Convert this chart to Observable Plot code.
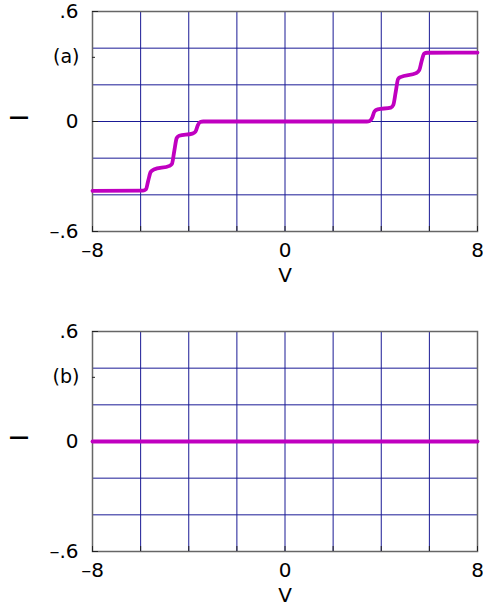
<!DOCTYPE html>
<html>
<head>
<meta charset="utf-8">
<script src="https://cdn.jsdelivr.net/npm/d3@7"></script>
<script src="https://cdn.jsdelivr.net/npm/@observablehq/plot@0.6"></script>
<style>
  body { margin: 0; background: #fff; }
  svg { display: block; }
</style>
</head>
<body>
<div id="chart"></div>
<script>
// Panel (a): current I vs voltage V (staircase)
const vA = [-8, -5.9, -5.78, -5.68, -5.58, -5.45, -4.8, -4.7, -4.6, -4.5, -4.4, -3.85, -3.72, -3.62, -3.52, -3.4,
            3.4, 3.52, 3.62, 3.72, 3.85, 4.4, 4.5, 4.6, 4.7, 4.8, 5.45, 5.58, 5.68, 5.78, 5.9, 8];
const iA = [-0.378, -0.377, -0.37, -0.32, -0.275, -0.262, -0.242, -0.232, -0.16, -0.09, -0.078, -0.066, -0.055, -0.02, -0.003, 0,
            0, 0.003, 0.02, 0.055, 0.066, 0.076, 0.09, 0.16, 0.232, 0.242, 0.264, 0.28, 0.33, 0.37, 0.375, 0.376];
// Panel (b): zero current
const vB = [-8, 8];
const iB = [0, 0];

const panelLabels = ["(a)", "(b)"];
const xGrid = [-8, -6, -4, -2, 0, 2, 4, 6, 8];
const xLabelTicks = [-8, 0, 8];
const yGrid = [-0.6, -0.4, -0.2, 0, 0.2, 0.4, 0.6];
const yLabelTicks = [-0.6, 0, 0.6];
const yTickText = {"-0.6": "\u2013.6", "0": "0", "0.6": ".6"};
const panelLabelAt = 0.35;
const xTitle = "V";
const yTitle = "I";

const FONT = "DejaVu Sans, Liberation Sans, Arial, sans-serif";
const GRID = "#1a1a95";
const CURVE = "#c000c0";

function panel(vs, is, label, totalHeight, marginBottom) {
  const data = vs.map((v, k) => ({V: v, I: is[k]}));
  return Plot.plot({
    width: 483,
    height: totalHeight,
    marginLeft: 92,
    marginRight: 6,
    marginTop: 11,
    marginBottom: marginBottom,
    style: {fontFamily: FONT, color: "#000", background: "#fff"},
    x: {domain: [-8, 8]},
    y: {domain: [-0.6, 0.6]},
    marks: [
      Plot.gridX(xGrid, {stroke: GRID, strokeOpacity: 1, strokeWidth: 1}),
      Plot.gridY(yGrid, {stroke: GRID, strokeOpacity: 1, strokeWidth: 1}),
      Plot.frame({stroke: "#666", strokeWidth: 1.5}),
      Plot.axisX(xGrid, {tickSize: -5, tickPadding: 16, fontSize: 20,
        tickFormat: d => xLabelTicks.includes(d) ? (d < 0 ? "\u2013" + Math.abs(d) : String(d)) : "",
        label: null, stroke: "#222"}),
      Plot.axisY(yLabelTicks, {tickSize: -6, tickPadding: 20, fontSize: 20,
        tickFormat: d => yTickText[String(d)], label: null, stroke: "#222"}),
      Plot.axisY([panelLabelAt], {tickSize: -3, tickPadding: 16, fontSize: 19,
        tickFormat: () => label, label: null, stroke: "#222"}),
      Plot.text([xTitle], {frameAnchor: "bottom", text: d => d, dy: 50, fontSize: 20}),
      Plot.text([yTitle], {frameAnchor: "left", text: d => d, dx: -73, rotate: -90, fontSize: 25}),
      Plot.line(data, {x: "V", y: "I", stroke: CURVE, strokeWidth: 3.8, curve: "monotone-x"})
    ]
  });
}

const root = document.getElementById("chart");
root.appendChild(panel(vA, iA, panelLabels[0], 320, 89));
root.appendChild(panel(vB, iB, panelLabels[1], 287, 56));
</script>
</body>
</html>
